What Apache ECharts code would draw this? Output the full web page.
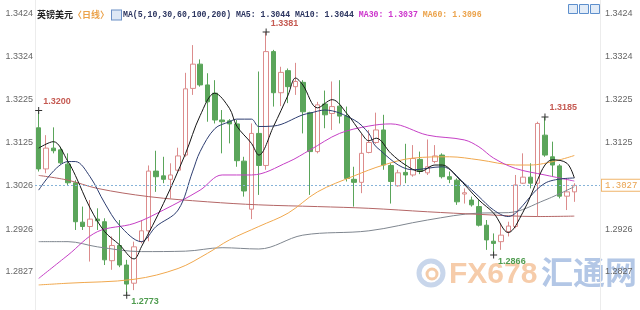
<!DOCTYPE html>
<html>
<head>
<meta charset="utf-8">
<script src="https://cdn.jsdelivr.net/npm/echarts@6/dist/echarts.min.js"></script>
<style>
html, body { margin: 0; padding: 0; background: #fff; }
#chart { width: 640px; height: 310px; }
</style>
</head>
<body>
<div id="chart"></div>
<script>
// 英镑美元 日线: K线 + 均线

var opens = [1.3160, 1.3065, 1.3113, 1.3109, 1.3076, 1.3033, 1.2942, 1.2932, 1.2949, 1.2943,
	1.2853, 1.2888, 1.2843, 1.2801, 1.2897, 1.2922, 1.3060, 1.3049, 1.3041, 1.3062,
	1.3097, 1.3251, 1.3307, 1.3259, 1.3240, 1.3178, 1.3176, 1.3169, 1.3083, 1.2972,
	1.3147, 1.3073, 1.3336, 1.3241, 1.3292, 1.3255, 1.3265, 1.3195, 1.3105, 1.3215,
	1.3193, 1.3210, 1.3187, 1.3041, 1.3034, 1.3103, 1.3126, 1.3155, 1.3073, 1.3026,
	1.3057, 1.3051, 1.3087, 1.3056, 1.3082, 1.3097, 1.3047, 1.3039, 1.3007, 1.2993,
	1.2978, 1.2935, 1.2898, 1.2897, 1.2920, 1.2932, 1.3032, 1.3046, 1.3032, 1.3143,
	1.3093, 1.3072, 1.3002, 1.3012];
var closes = [1.3065, 1.3113, 1.3107, 1.3079, 1.3033, 1.2943, 1.2932, 1.2949, 1.2945, 1.2855,
	1.2888, 1.2843, 1.2799, 1.2885, 1.2922, 1.3060, 1.3047, 1.3041, 1.3051, 1.3095,
	1.3250, 1.3307, 1.3259, 1.3220, 1.3178, 1.3174, 1.3169, 1.3084, 1.3014, 1.3147,
	1.3073, 1.3336, 1.3241, 1.3288, 1.3255, 1.3267, 1.3197, 1.3105, 1.3213, 1.3190,
	1.3209, 1.3187, 1.3043, 1.3034, 1.3101, 1.3126, 1.3155, 1.3074, 1.3036, 1.3056,
	1.3051, 1.3089, 1.3059, 1.3070, 1.3095, 1.3047, 1.3041, 1.2989, 1.3010, 1.2982,
	1.2935, 1.2901, 1.2893, 1.2912, 1.2933, 1.3028, 1.3046, 1.3032, 1.3170, 1.3097,
	1.3074, 1.3002, 1.3012, 1.3027];
var lows = [1.3059, 1.3055, 1.3101, 1.3076, 1.3028, 1.2924, 1.2924, 1.2851, 1.2924, 1.2843,
	1.2832, 1.2838, 1.2773, 1.2785, 1.2893, 1.2898, 1.3012, 1.3032, 1.2997, 1.3059,
	1.3093, 1.3236, 1.3255, 1.3174, 1.3170, 1.3101, 1.3124, 1.3070, 1.3001, 1.2949,
	1.3005, 1.3063, 1.3209, 1.3210, 1.3217, 1.3236, 1.3147, 1.3005, 1.3101, 1.3159,
	1.3155, 1.3170, 1.3036, 1.2978, 1.3009, 1.3101, 1.3123, 1.3063, 1.2985, 1.3024,
	1.3032, 1.3047, 1.3053, 1.3051, 1.3078, 1.3043, 1.3032, 1.2982, 1.2985, 1.2978,
	1.2932, 1.2878, 1.2866, 1.2878, 1.2909, 1.2928, 1.3030, 1.3020, 1.2955, 1.3093,
	1.3047, 1.2997, 1.2970, 1.2989];
var highs = [1.3200, 1.3143, 1.3161, 1.3116, 1.3101, 1.3039, 1.2978, 1.2993, 1.2974, 1.2951,
	1.2909, 1.2947, 1.2855, 1.2897, 1.2947, 1.3073, 1.3107, 1.3093, 1.3078, 1.3114,
	1.3287, 1.3351, 1.3318, 1.3286, 1.3270, 1.3201, 1.3180, 1.3178, 1.3093, 1.3170,
	1.3290, 1.3381, 1.3340, 1.3301, 1.3297, 1.3310, 1.3270, 1.3197, 1.3220, 1.3246,
	1.3267, 1.3270, 1.3209, 1.3070, 1.3147, 1.3155, 1.3195, 1.3190, 1.3078, 1.3063,
	1.3123, 1.3120, 1.3105, 1.3133, 1.3120, 1.3101, 1.3059, 1.3043, 1.3020, 1.3001,
	1.2993, 1.2947, 1.2916, 1.2939, 1.2943, 1.3051, 1.3101, 1.3078, 1.3174, 1.3185,
	1.3128, 1.3076, 1.3043, 1.3032];

// 均线 [K线序号, 数值]
var ma5 = [[0, 1.3113], [2, 1.3128], [4, 1.3082], [5, 1.3050], [7, 1.2975], [9, 1.2920],
	[11, 1.2890], [13, 1.2857], [14, 1.2885], [17, 1.2985], [20, 1.3100], [22, 1.3188],
	[24, 1.3240], [26, 1.3205], [27, 1.3164], [29, 1.3124], [30, 1.3097], [32, 1.3163],
	[34, 1.3236], [35, 1.3275], [36, 1.3259], [38, 1.3206], [40, 1.3225], [42, 1.3193],
	[44, 1.3147], [45, 1.3130], [46, 1.3136], [48, 1.3101], [50, 1.3074], [52, 1.3059],
	[54, 1.3074], [55, 1.3074], [57, 1.3047], [60, 1.2993], [62, 1.2963], [64, 1.2918],
	[66, 1.2965], [68, 1.3040], [69, 1.3074], [70, 1.3086], [72, 1.3078], [73, 1.3044]];
var ma10 = [[0, 1.3016], [4, 1.3082], [5, 1.3082], [7, 1.3047], [9, 1.2986], [11, 1.2935],
	[14, 1.2897], [16, 1.2932], [19, 1.2970], [21, 1.3060], [22, 1.3105], [24, 1.3158],
	[26, 1.3174], [27, 1.3180], [29, 1.3180], [30, 1.3163], [32, 1.3164], [36, 1.3190],
	[37, 1.3194], [39, 1.3201], [43, 1.3178], [45, 1.3147], [46, 1.3116], [51, 1.3063],
	[55, 1.3070], [58, 1.3032], [60, 1.3001], [62, 1.2970], [64, 1.2955], [65, 1.2963],
	[69, 1.3032], [73, 1.3044]];
var ma30 = [[0, 1.2812], [4, 1.2866], [8, 1.2920], [13, 1.2939], [17, 1.2970], [22, 1.3016],
	[25, 1.3051], [29, 1.3051], [34, 1.3081], [37, 1.3109], [41, 1.3147], [45, 1.3164],
	[48, 1.3169], [53, 1.3143], [58, 1.3132], [60, 1.3116], [62, 1.3090], [65, 1.3066],
	[69, 1.3051], [73, 1.3037]];
var ma60 = [[0, 1.2797], [4, 1.2801], [13, 1.2810], [19, 1.2835], [23, 1.2870], [26, 1.2901],
	[30, 1.2932], [34, 1.2963], [38, 1.3012], [43, 1.3049], [47, 1.3074], [51, 1.3090],
	[56, 1.3093], [60, 1.3086], [65, 1.3074], [67, 1.3074], [73, 1.3096]];
var ma100 = [[0, 1.3050], [4, 1.3039], [8, 1.3020], [15, 1.3001], [23, 1.2989], [30, 1.2982],
	[38, 1.2978], [45, 1.2974], [53, 1.2966], [60, 1.2960], [68, 1.2955], [73, 1.2956]];
var ma200 = [[0, 1.2897], [4, 1.2897], [8, 1.2885], [14, 1.2874], [20, 1.2875], [25, 1.2883],
	[30, 1.2880], [36, 1.2912], [45, 1.2922], [53, 1.2947], [60, 1.2963], [64, 1.2964],
	[69, 1.2993], [73, 1.3024]];

var yTicks = [1.2827, 1.2926, 1.3026, 1.3125, 1.3225, 1.3324, 1.3424];
var lastPrice = 1.3027;
var peakIdx = [0, 31, 69];
var troughIdx = [12, 62];

var days = opens.map(function (v, i) { return String(i + 1); });
var slots = days.concat(['', '', '']); // 右侧留白

var kData = opens.map(function (o, i) {
	return [o, closes[i], lows[i], highs[i]];
});

function last(arr) {
	return arr[arr.length - 1][1].toFixed(4);
}

var marks = [];
peakIdx.forEach(function (i) {
	marks.push({
		coord: [i, highs[i]], value: highs[i].toFixed(4),
		label: { position: [8, -10], color: '#c55a52' }
	});
});
troughIdx.forEach(function (i) {
	marks.push({
		coord: [i, lows[i]], value: lows[i].toFixed(4),
		label: { position: [8, 5], color: '#4f9c4f' }
	});
});

function maLine(name, data, color) {
	return {
		name: name, type: 'line', data: data, smooth: 0.35,
		symbol: 'none', silent: true,
		lineStyle: { color: color, width: 1 }
	};
}

var monoFont = '"Liberation Mono", "DejaVu Sans Mono", monospace';

var chart = echarts.init(document.getElementById('chart'));

// 现价虚线挂在 MA5 上
var ma5Series = maLine('MA5', ma5, '#151515');
ma5Series.markLine = {
	silent: true, symbol: 'none', precision: 4,
	lineStyle: { color: '#86b3d8', type: [2, 2], width: 1 },
	label: {
		show: true, position: 'end', distance: 2,
		formatter: lastPrice.toFixed(4),
		color: '#e9a24e', fontSize: 9, fontFamily: monoFont,
		backgroundColor: '#fff', borderColor: '#f0b46a', borderWidth: 1, padding: [1, 3]
	},
	data: [{ yAxis: lastPrice }]
};

var option = {
	animation: false,
	title: {
		left: 32, top: 1,
		text: '{a|英镑美元}{b|〈日线〉}{sp|}{ic|}{c|MA(5,10,30,60,100,200) MA5: ' + last(ma5) +
			' MA10: ' + last(ma10) + ' }{d|MA30: ' + last(ma30) + ' }{e|MA60: ' + last(ma60) + '}',
		textStyle: {
			rich: {
				a: { color: '#222', fontSize: 9, fontFamily: '"Noto Sans CJK SC"' },
				b: { color: '#eba24a', fontSize: 9, fontFamily: '"Noto Sans CJK SC"' },
				sp: { width: 3 },
				ic: { width: 9, height: 9, backgroundColor: '#dde7f5', borderColor: '#6b8fc6', borderWidth: 1 },
				c: { color: '#2c3560', fontSize: 8.2, fontFamily: monoFont, padding: [0, 0, 0, 2] },
				d: { color: '#cc33cc', fontSize: 8.2, fontFamily: monoFont },
				e: { color: '#eba24a', fontSize: 8.2, fontFamily: monoFont }
			}
		}
	},
	grid: { left: 35, right: 40, top: 0, bottom: 0 },
	xAxis: {
		type: 'category', data: slots, boundaryGap: true,
		axisLine: { show: false }, axisTick: { show: false }, axisLabel: { show: false },
		splitLine: { show: false }
	},
	yAxis: [0, 1].map(function (k) {
		return {
			type: 'value', min: 1.27391, max: 1.34552,
			position: k === 0 ? 'left' : 'right',
			splitLine: { show: false },
			axisLine: { show: true, lineStyle: { color: '#ececec' } },
			axisTick: { show: false },
			axisLabel: {
				customValues: yTicks, color: '#666', fontSize: 9,
				fontFamily: '"Liberation Sans", Arial', margin: k === 0 ? 2 : 5,
				formatter: function (v) { return v.toFixed(4); }
			}
		};
	}),
	graphic: [
		{ type: 'circle', z: 0, shape: { cx: 431, cy: 273, r: 12 }, style: { fill: 'none', stroke: '#c8d6eb', lineWidth: 5 } },
		{ type: 'circle', z: 0, shape: { cx: 432, cy: 274, r: 5 }, style: { fill: 'none', stroke: '#f4cba8', lineWidth: 3 } },
		{ type: 'text', z: 0, left: 449, top: 260, style: { text: 'FX678', font: 'bold 30px "Liberation Sans"', fill: '#f6ccaa' } },
		{ type: 'text', z: 0, left: 541, top: 256, style: { text: '汇通网', font: 'bold 32px "Noto Sans CJK SC"', fill: '#b3c7e6' } },
		{ type: 'rect', z: 0, shape: { x: 568.5, y: 4.5, width: 9, height: 9 }, style: { fill: '#e2ecf8', stroke: '#5d8fcc' } },
		{ type: 'rect', z: 0, shape: { x: 579.5, y: 4.5, width: 9, height: 9 }, style: { fill: '#e2ecf8', stroke: '#5d8fcc' } },
		{ type: 'rect', z: 0, shape: { x: 590.5, y: 4.5, width: 9, height: 9 }, style: { fill: '#e2ecf8', stroke: '#5d8fcc' } }
	],
	series: [
		{
			name: '英镑美元', type: 'candlestick', data: kData, barWidth: 5,
			itemStyle: {
				color: '#ffffff', color0: '#5aa55a',
				borderColor: '#dc8c8c', borderColor0: '#5aa55a', borderWidth: 1
			},
			markPoint: {
				symbol: 'path://M0,3h7v1h-7z M3,0h1v7h-1z', symbolSize: [7, 7],
				itemStyle: { color: '#333' },
				label: {
					show: true, formatter: function (p) { return p.value; },
					fontSize: 9, fontWeight: 'bold', fontFamily: '"Liberation Sans", Arial',
					align: 'left', verticalAlign: 'top'
				},
				data: marks
			}
		},
		maLine('MA200', ma200, '#7f868f'),
		maLine('MA100', ma100, '#b46666'),
		maLine('MA60', ma60, '#f0a84e'),
		maLine('MA30', ma30, '#c53fc5'),
		maLine('MA10', ma10, '#2d3d70'),
		ma5Series
	]
};

chart.setOption(option);
</script>
</body>
</html>
